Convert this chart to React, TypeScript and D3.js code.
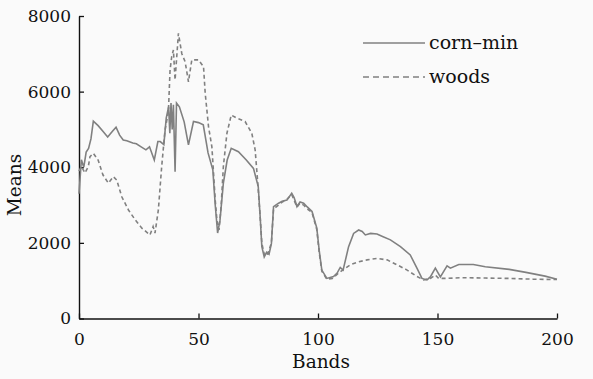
import * as d3 from "d3";
import { useEffect, useRef } from "react";

// band positions and mean values
const cornBands = [
  0, 1, 2, 3, 4, 5, 6, 8, 10, 12, 14, 15.5, 17, 18.5, 20, 22.5, 24, 26, 28, 29.5,
  31.5, 33, 34, 35.5, 36.5, 37.5, 38, 38.5, 39, 39.5, 40.2, 40.8, 42, 44, 45.8,
  47.9, 50, 52, 54, 56, 57, 58, 59, 60.4, 62, 63.7, 66.7, 70, 73, 75, 75.8, 76.5,
  77.5, 78.5, 79.5, 80.5, 81.4, 83.5, 85, 87, 89, 90, 91.2, 92.5, 94, 95.5, 97.5,
  99.5, 100.5, 101.6, 103.7, 106.5, 108, 109.3, 110.5, 112.8, 114.9, 117, 118.5,
  119.8, 122, 124.7, 127, 130.3, 134.5, 138.6, 141.4, 143.5, 145.6, 147, 149.1,
  151.2, 154, 155.4, 158.9, 165, 170, 180, 187, 195, 200,
];
const cornValues = [
  3300, 4200, 4000, 4400, 4500, 4750, 5220, 5100, 4950, 4800, 4950, 5060, 4850,
  4720, 4700, 4640, 4620, 4540, 4460, 4540, 4190, 4680, 4680, 4600, 5300, 5600,
  4900, 5700, 5000, 5650, 3880, 5700, 5600, 5200, 4590, 5210, 5180, 5120, 4380,
  3930, 3000, 2260, 2600, 3580, 4190, 4500, 4410, 4190, 3970, 3490, 2690, 1900,
  1630, 1750, 1700, 1980, 2960, 3050, 3100, 3130, 3310, 3200, 2960, 3080, 3050,
  2950, 2830, 2390, 1800, 1280, 1060, 1110, 1200, 1350, 1280, 1900, 2250, 2340,
  2300, 2210, 2250, 2235, 2170, 2080, 1900, 1680, 1330, 1060, 1020, 1100, 1330,
  1100, 1390, 1330, 1430, 1430, 1370, 1300, 1220, 1120, 1040,
];

const woodsBands = [
  0, 1, 2.5, 3.9, 4.6, 6, 8, 10, 12.3, 14.4, 15.8, 17.9, 20.7, 23.5, 26.3, 29.7,
  31, 31.8, 33.2, 34.6, 36, 37.4, 38.1, 38.8, 39.5, 40.2, 41.6, 43, 44.4, 45.8,
  47.2, 50, 52.1, 52.8, 54.2, 55.6, 57, 57.7, 58.6, 59.5, 60.4, 61.9, 63.7, 66,
  69.5, 72.3, 73.7, 74.8, 75.8, 76.5, 77.5, 78.5, 79.5, 80.5, 81.4, 83.5, 85, 87,
  89, 91.2, 92.5, 94, 95.5, 97.5, 99.5, 100.5, 101.6, 103.7, 106, 108.6, 111.4,
  113.5, 117, 120.5, 124.7, 128.9, 133.1, 137.3, 141.4, 144.2, 147, 149.1, 150.5,
  153.3, 160, 170, 180, 190, 200,
];
const woodsValues = [
  3900, 4020, 3850, 4020, 4280, 4370, 4190, 3800, 3580, 3750, 3660, 3220, 2870,
  2610, 2390, 2210, 2430, 2260, 2870, 4020, 4990, 5460, 6570, 6930, 7100, 6310,
  7540, 7010, 6790, 6260, 6840, 6840, 6660, 5960, 5070, 4540, 3130, 2610, 2340,
  3000, 4020, 4900, 5380, 5300, 5210, 4900, 4460, 3580, 2690, 1990, 1700, 1650,
  1800, 2000, 2900, 3000, 3080, 3150, 3280, 2950, 3050, 3000, 2900, 2800, 2350,
  1750, 1250, 1040, 1060, 1200, 1330, 1420, 1500, 1550, 1590, 1550, 1420, 1280,
  1110, 1020, 1060, 1150, 1060, 1060, 1080, 1070, 1060, 1040, 1030,
];

const xTicks = [0, 50, 100, 150, 200];
const yTicks = [0, 2000, 4000, 6000, 8000];
const seriesNames = ["corn\u2013min", "woods"];

const W = 593;
const H = 379;
const font = "'DejaVu Serif', serif";
const lineColor = "#808080";

const App = () => {
  const ref = useRef<SVGSVGElement>(null);

  useEffect(() => {
    document.body.style.margin = "0";
    const margin = { top: 16, right: 36, bottom: 60.5, left: 79 },
      width = W - margin.left - margin.right,
      height = H - margin.top - margin.bottom;

    const root = d3.select(ref.current);
    root.selectAll("*").remove();
    root.append("rect").attr("width", W).attr("height", H).attr("fill", "#fafafa");

    const svg = root
      .append("g")
      .attr("transform", `translate(${margin.left},${margin.top})`);

    const x = d3.scaleLinear().domain([0, 200]).range([0, width]);
    const y = d3.scaleLinear().domain([0, 8000]).range([height, 0]);

    const xAxis = svg
      .append("g")
      .attr("transform", `translate(0,${height})`)
      .call(
        d3
          .axisBottom(x)
          .tickValues(xTicks)
          .tickFormat(d3.format("d"))
          .tickSizeInner(-5)
          .tickSizeOuter(0)
          .tickPadding(14.5)
      );
    const yAxis = svg
      .append("g")
      .call(
        d3
          .axisLeft(y)
          .tickValues(yTicks)
          .tickFormat(d3.format("d"))
          .tickSizeInner(-5)
          .tickSizeOuter(0)
          .tickPadding(8)
      );

    [xAxis, yAxis].forEach((a) => {
      a.select(".domain").attr("stroke", "#111").attr("stroke-width", 1.4);
      a.selectAll(".tick line").attr("stroke", "#111").attr("stroke-width", 1.3);
      a.selectAll("text")
        .attr("fill", "#111")
        .style("font-family", font)
        .style("font-size", "17px");
    });

    const line = d3
      .line<[number, number]>()
      .x((d) => x(d[0]))
      .y((d) => y(d[1]));

    // corn-min
    svg
      .append("path")
      .datum(cornBands.map((b, i) => [b, cornValues[i]] as [number, number]))
      .attr("d", line)
      .attr("fill", "none")
      .attr("stroke", lineColor)
      .attr("stroke-width", 1.6);

    // woods
    svg
      .append("path")
      .datum(woodsBands.map((b, i) => [b, woodsValues[i]] as [number, number]))
      .attr("d", line)
      .attr("fill", "none")
      .attr("stroke", lineColor)
      .attr("stroke-width", 1.6)
      .attr("stroke-dasharray", "4,3");

    // axis titles
    root
      .append("text")
      .attr("x", 321)
      .attr("y", 368)
      .attr("text-anchor", "middle")
      .style("font-family", font)
      .style("font-size", "18.5px")
      .attr("fill", "#111")
      .text("Bands");
    root
      .append("text")
      .attr("transform", "translate(21,185) rotate(-90)")
      .attr("text-anchor", "middle")
      .style("font-family", font)
      .style("font-size", "18.5px")
      .attr("fill", "#111")
      .text("Means");

    // legend
    const legend = root
      .append("g")
      .selectAll("g")
      .data(seriesNames)
      .join("g")
      .attr("transform", (d, i) => `translate(363,${43 + i * 34})`);
    legend
      .append("line")
      .attr("x1", 0)
      .attr("x2", 62)
      .attr("stroke", lineColor)
      .attr("stroke-width", 1.5)
      .attr("stroke-dasharray", (d, i) => (i === 1 ? "6,4" : null));
    legend
      .append("text")
      .attr("x", 66)
      .attr("y", 5.5)
      .style("font-family", font)
      .style("font-size", "19px")
      .attr("fill", "#111")
      .text((d) => d);
  }, []);

  return <svg width={W} height={H} ref={ref} style={{ display: "block" }} />;
};

export default App;
